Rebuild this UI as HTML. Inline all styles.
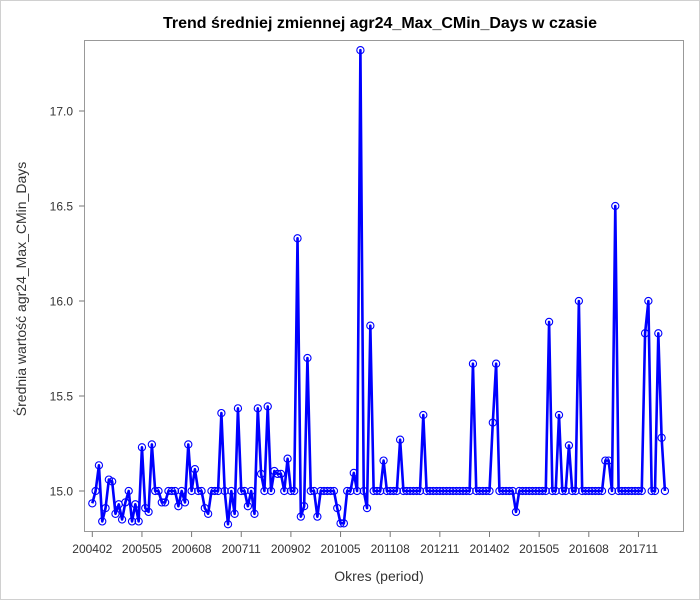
<!DOCTYPE html>
<html><head><meta charset="utf-8">
<style>
html,body{margin:0;padding:0;background:#fff;}
#wrap{position:relative;width:700px;height:600px;box-sizing:border-box;border:1px solid #d0d0d0;}
svg text{font-family:"Liberation Sans",sans-serif;}
</style></head>
<body>
<div id="wrap">
<svg id="chart" width="698" height="598" viewBox="1 1 698 598" xmlns="http://www.w3.org/2000/svg">
<text x="380" y="28" text-anchor="middle" font-size="16" font-weight="bold" fill="#000">Trend średniej zmiennej agr24_Max_CMin_Days w czasie</text>
<text x="379" y="581" text-anchor="middle" font-size="14" fill="#333">Okres (period)</text>
<text transform="translate(26,289) rotate(-90)" text-anchor="middle" font-size="14" fill="#333">Średnia wartość agr24_Max_CMin_Days</text>
<rect x="84.5" y="40.5" width="599" height="491" fill="none" stroke="#999" stroke-width="1"/>
<g id="axes"></g>
<g id="series"></g>
</svg>
</div>
<script>
const values = [
14.935,15.0,15.135,14.84,14.91,15.06,15.05,14.88,14.93,14.85,14.94,15.0,14.84,14.93,14.84,15.23,14.91,14.89,15.245,15.0,15.0,14.94,14.94,15.0,15.0,15.0,14.92,15.0,14.94,15.245,
15.0,15.115,15.0,15.0,14.91,14.88,15,15,15,15.41,15,14.825,15,14.88,15.435,15,15,14.92,15,14.88,15.435,15.09,15,15.445,15,15.105,15.09,15.09,15,15.17,15,
15,16.33,
14.865,14.92,15.7,15,15,14.865,15,15,15,15,15,14.91,14.83,14.83,15,15,15.095,15,17.32,15,14.91,15.87,15,15,15,15.16,15,15,15,15,15.27,
15,15,15,15,15,15,15.4,
15,15,15,15,15,15,15,15,15,15,15,15,15,15,15.67,
15,15,15,15,15,15.36,15.67,
15,15,15,15,15,14.89,
15,15,15,15,15,15,15,15,15,15.89,15,15,15.4,15,15,15.24,15,15,16.0,
15,15,15,15,15,15,15,15.16,15.16,15,16.5,
15,15,15,15,15,15,15,15,15.83,16.0,15,15,15.83,15.28,15
];
const yTicks = [15.0, 15.5, 16.0, 16.5, 17.0];
const yTickLabels = ["15.0","15.5","16.0","16.5","17.0"];
const xTickLabels = ["200402","200505","200608","200711","200902","201005","201108","201211","201402","201505","201608","201711"];
const xTickStep = 15;

const NS = "http://www.w3.org/2000/svg";
const X0 = 92.3, DX = 3.31;
function xScale(i){ return X0 + i*DX; }
function yScale(v){ return 491 - (v-15)*190; }

const axes = document.getElementById('axes');
yTicks.forEach((t,k)=>{
  const y = yScale(t);
  const l = document.createElementNS(NS,'line');
  l.setAttribute('x1',79); l.setAttribute('x2',84.5); l.setAttribute('y1',y); l.setAttribute('y2',y);
  l.setAttribute('stroke','#777');
  
  
  axes.appendChild(l);
  const tx = document.createElementNS(NS,'text');
  tx.setAttribute('x',73); tx.setAttribute('y',y+4.5); tx.setAttribute('text-anchor','end');
  tx.setAttribute('font-size','12'); tx.setAttribute('fill','#333');
  tx.textContent = yTickLabels[k];
  
  
  axes.appendChild(tx);
});
xTickLabels.forEach((lab,k)=>{
  const x = xScale(k*xTickStep);
  const l = document.createElementNS(NS,'line');
  l.setAttribute('x1',x); l.setAttribute('x2',x); l.setAttribute('y1',531.5); l.setAttribute('y2',537);
  l.setAttribute('stroke','#777');
  
  
  axes.appendChild(l);
  const tx = document.createElementNS(NS,'text');
  tx.setAttribute('x',x); tx.setAttribute('y',553); tx.setAttribute('text-anchor','middle');
  tx.setAttribute('font-size','12'); tx.setAttribute('fill','#333');
  tx.textContent = lab;
  
  
  axes.appendChild(tx);
});

const series = document.getElementById('series');
const pts = values.map((v,i)=>xScale(i).toFixed(2)+','+yScale(v).toFixed(2)).join(' ');
const pl = document.createElementNS(NS,'polyline');
pl.setAttribute('points',pts);
pl.setAttribute('fill','none'); pl.setAttribute('stroke','#0000ff'); pl.setAttribute('stroke-width','2.6');
pl.setAttribute('stroke-linejoin','round');


series.appendChild(pl);
values.forEach((v,i)=>{
  const c = document.createElementNS(NS,'circle');
  c.setAttribute('cx',xScale(i)); c.setAttribute('cy',yScale(v)); c.setAttribute('r',3.6);
  c.setAttribute('fill','none'); c.setAttribute('stroke','#0000ff'); c.setAttribute('stroke-width','1.1');
  
  
  series.appendChild(c);
});
</script>
</body></html>
